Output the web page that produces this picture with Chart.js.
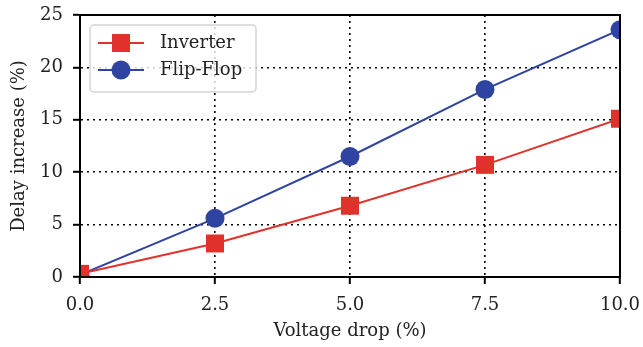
<!DOCTYPE html>
<html>
<head>
<meta charset="utf-8">
<script src="https://cdn.jsdelivr.net/npm/chart.js@4/dist/chart.umd.min.js"></script>
<style>
  html, body { margin: 0; padding: 0; background: #fff; }
</style>
</head>
<body>
<canvas id="delayChart" width="643" height="347"></canvas>
<script>
// data
const voltageDrop = [0, 2.5, 5, 7.5, 10];
const inverterDelay = [0.3, 3.2, 6.8, 10.7, 15.1];
const flipFlopDelay = [0.2, 5.6, 11.5, 17.9, 23.6];
const xTicks = [0, 2.5, 5, 7.5, 10];
const yTicks = [0, 5, 10, 15, 20, 25];
const seriesNames = ['Inverter', 'Flip-Flop'];

const RED = '#e0322a';
const BLUE = '#2f44a0';
const FONT = 'DejaVu Serif';

function toPoints(xs, ys) {
  return xs.map((x, i) => ({ x: x, y: ys[i] }));
}

// black frame on all four sides
const framePlugin = {
  id: 'frame',
  afterDatasetsDraw(chart) {
    const a = chart.chartArea;
    const ctx = chart.ctx;
    ctx.save();
    ctx.strokeStyle = '#000';
    ctx.lineWidth = 2;
    ctx.strokeRect(a.left, a.top, a.right - a.left, a.bottom - a.top);
    ctx.restore();
  }
};

// matplotlib style legend (line through marker)
const legendPlugin = {
  id: 'mplLegend',
  afterDraw(chart) {
    const ctx = chart.ctx;
    const a = chart.chartArea;
    const bx = a.left + 10, by = a.top + 10, bw = 166, bh = 67;
    ctx.save();
    ctx.beginPath();
    ctx.roundRect(bx, by, bw, bh, 4);
    ctx.fillStyle = 'rgba(255,255,255,0.8)';
    ctx.fill();
    ctx.strokeStyle = '#d4d4d4';
    ctx.lineWidth = 1.5;
    ctx.stroke();

    chart.data.datasets.forEach((ds, i) => {
      const cy = by + 18 + i * 27;
      ctx.strokeStyle = ds.borderColor;
      ctx.lineWidth = ds.borderWidth;
      ctx.beginPath();
      ctx.moveTo(bx + 8, cy);
      ctx.lineTo(bx + 54, cy);
      ctx.stroke();
      ctx.fillStyle = ds.backgroundColor;
      const mx = bx + 31;
      if (ds.pointStyle === 'rect') {
        const s = ds.pointRadius * Math.SQRT1_2;
        ctx.fillRect(mx - s, cy - s, 2 * s, 2 * s);
      } else {
        ctx.beginPath();
        ctx.arc(mx, cy, ds.pointRadius, 0, Math.PI * 2);
        ctx.fill();
      }
      ctx.fillStyle = '#222';
      ctx.font = '18px "' + FONT + '"';
      ctx.textBaseline = 'middle';
      ctx.fillText(ds.label, bx + 70, cy);
    });
    ctx.restore();
  }
};

const ctx = document.getElementById('delayChart').getContext('2d');
const delayChart = new Chart(ctx, {
  type: 'line',
  data: {
    datasets: [{
      label: seriesNames[0],
      data: toPoints(voltageDrop, inverterDelay),
      borderColor: RED,
      backgroundColor: RED,
      borderWidth: 2,
      pointStyle: 'rect',
      pointRadius: 12.7,
      pointBorderWidth: 0,
      clip: 0
    }, {
      label: seriesNames[1],
      data: toPoints(voltageDrop, flipFlopDelay),
      borderColor: BLUE,
      backgroundColor: BLUE,
      borderWidth: 2,
      pointStyle: 'circle',
      pointRadius: 9.5,
      pointBorderWidth: 0,
      clip: 0
    }]
  },
  options: {
    responsive: false,
    animation: false,
    layout: { padding: { left: 0, right: 23, top: 15, bottom: 0 } },
    plugins: {
      legend: { display: false },
      tooltip: { enabled: false }
    },
    scales: {
      x: {
        type: 'linear',
        min: 0,
        max: 10,
        afterFit: s => { s.height = 70; s.paddingLeft = 0; s.paddingRight = 0; },
        afterBuildTicks: s => { s.ticks = xTicks.map(v => ({ value: v })); },
        ticks: {
          color: '#222',
          font: { family: FONT, size: 18 },
          padding: 11,
          maxRotation: 0,
          callback: v => v.toFixed(1)
        },
        grid: {
          color: '#000',
          lineWidth: 1.6,
          tickLength: 7,
          tickWidth: 2,
          tickColor: '#000',
          tickBorderDash: []
        },
        border: { color: '#000', width: 2, dash: [2, 4] },
        title: {
          display: true,
          text: 'Voltage drop (%)',
          color: '#222',
          font: { family: FONT, size: 18 },
          padding: { top: 0, bottom: 5 }
        }
      },
      y: {
        min: 0,
        max: 25,
        afterFit: s => { s.width = 80; s.paddingTop = 0; s.paddingBottom = 0; },
        afterBuildTicks: s => { s.ticks = yTicks.map(v => ({ value: v })); },
        ticks: {
          color: '#222',
          font: { family: FONT, size: 18 },
          padding: 10
        },
        grid: {
          color: '#000',
          lineWidth: 1.6,
          tickLength: 7,
          tickWidth: 2,
          tickColor: '#000',
          tickBorderDash: []
        },
        border: { color: '#000', width: 2, dash: [2, 4] },
        title: {
          display: true,
          text: 'Delay increase (%)',
          color: '#222',
          font: { family: FONT, size: 18 },
          padding: { top: 9, bottom: 0 }
        }
      }
    }
  },
  plugins: [framePlugin, legendPlugin]
});
</script>
</body>
</html>
